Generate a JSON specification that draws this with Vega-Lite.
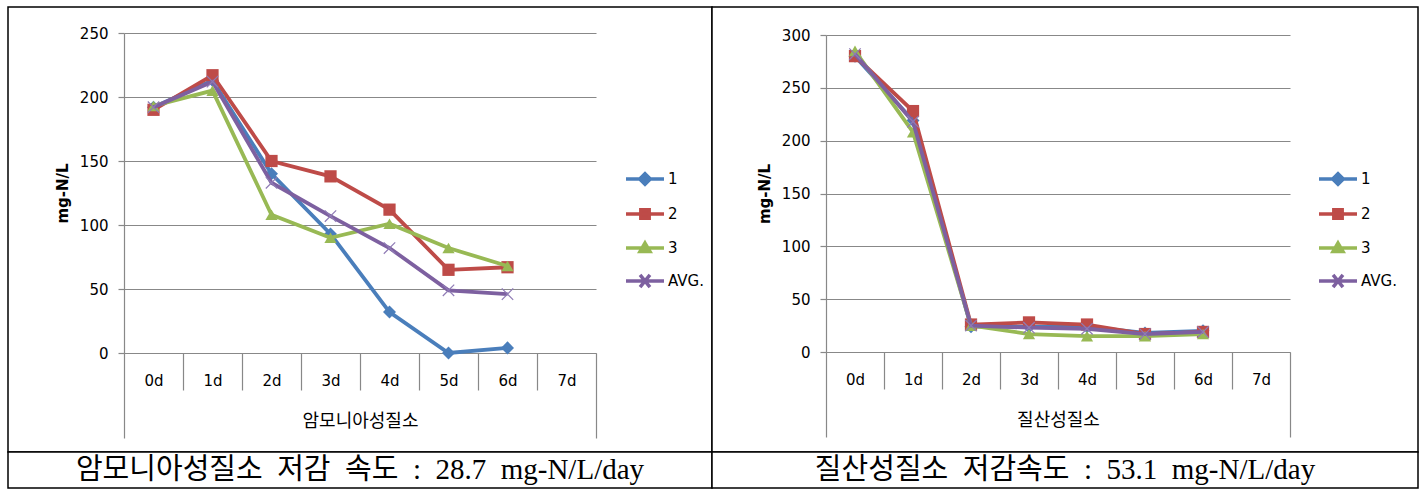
{
  "$schema": "https://vega.github.io/schema/vega-lite/v6.json",
  "background": "white",
  "padding": {"left": 7, "top": 6, "right": 0, "bottom": 0},
  "bounds": "flush",
  "spacing": 445,
  "datasets": {
    "nh4": [
      {"d": "0d", "s": "1", "v": 192}, {"d": "1d", "s": "1", "v": 213}, {"d": "2d", "s": "1", "v": 140}, {"d": "3d", "s": "1", "v": 93}, {"d": "4d", "s": "1", "v": 32}, {"d": "5d", "s": "1", "v": 0}, {"d": "6d", "s": "1", "v": 4},
      {"d": "0d", "s": "2", "v": 190}, {"d": "1d", "s": "2", "v": 217}, {"d": "2d", "s": "2", "v": 150}, {"d": "3d", "s": "2", "v": 138}, {"d": "4d", "s": "2", "v": 112}, {"d": "5d", "s": "2", "v": 65}, {"d": "6d", "s": "2", "v": 67},
      {"d": "0d", "s": "3", "v": 193}, {"d": "1d", "s": "3", "v": 205}, {"d": "2d", "s": "3", "v": 108}, {"d": "3d", "s": "3", "v": 90}, {"d": "4d", "s": "3", "v": 101}, {"d": "5d", "s": "3", "v": 82}, {"d": "6d", "s": "3", "v": 68},
      {"d": "0d", "s": "AVG.", "v": 192}, {"d": "1d", "s": "AVG.", "v": 212}, {"d": "2d", "s": "AVG.", "v": 133}, {"d": "3d", "s": "AVG.", "v": 107}, {"d": "4d", "s": "AVG.", "v": 82}, {"d": "5d", "s": "AVG.", "v": 49}, {"d": "6d", "s": "AVG.", "v": 46}
    ],
    "no3": [
      {"d": "0d", "s": "1", "v": 280}, {"d": "1d", "s": "1", "v": 219}, {"d": "2d", "s": "1", "v": 24}, {"d": "3d", "s": "1", "v": 24}, {"d": "4d", "s": "1", "v": 24}, {"d": "5d", "s": "1", "v": 18}, {"d": "6d", "s": "1", "v": 20},
      {"d": "0d", "s": "2", "v": 280}, {"d": "1d", "s": "2", "v": 228}, {"d": "2d", "s": "2", "v": 26}, {"d": "3d", "s": "2", "v": 28}, {"d": "4d", "s": "2", "v": 26}, {"d": "5d", "s": "2", "v": 17}, {"d": "6d", "s": "2", "v": 19},
      {"d": "0d", "s": "3", "v": 285}, {"d": "1d", "s": "3", "v": 208}, {"d": "2d", "s": "3", "v": 25}, {"d": "3d", "s": "3", "v": 17}, {"d": "4d", "s": "3", "v": 15}, {"d": "5d", "s": "3", "v": 15}, {"d": "6d", "s": "3", "v": 17},
      {"d": "0d", "s": "AVG.", "v": 282}, {"d": "1d", "s": "AVG.", "v": 218}, {"d": "2d", "s": "AVG.", "v": 25}, {"d": "3d", "s": "AVG.", "v": 23}, {"d": "4d", "s": "AVG.", "v": 22}, {"d": "5d", "s": "AVG.", "v": 17}, {"d": "6d", "s": "AVG.", "v": 19}
    ],
    "capL": [{"t": "암모니아성질소\u00a0\u00a0저감\u00a0\u00a0속도\u00a0\u00a0:\u00a0\u00a028.7\u00a0\u00a0mg-N/L/day"}],
    "capR": [{"t": "질산성질소\u00a0\u00a0저감속도\u00a0\u00a0:\u00a0\u00a053.1\u00a0\u00a0mg-N/L/day"}]
  },
  "config": {
    "font": "DejaVu Sans",
    "view": {"stroke": null},
    "axis": {
      "labelFont": "DejaVu Sans", "labelFontSize": 15, "labelColor": "#000",
      "domainColor": "#888888", "tickColor": "#888888", "gridColor": "#888888",
      "domainWidth": 1.2, "gridWidth": 1.2, "tickWidth": 1.2, "titleColor": "#000"
    },
    "legend": {"symbolOpacity": 1}
  },
  "vconcat": [
    {
      "hconcat": [
        {
          "width": 704, "height": 445,
          "view": {"stroke": "#000", "strokeWidth": 1.5, "fill": "white"},
          "data": {"name": "nh4"},
          "encoding": {
            "x": {"field": "d", "type": "ordinal", "scale": {"type": "band", "domain": ["0d","1d","2d","3d","4d","5d","6d","7d"], "paddingInner": 0, "paddingOuter": 0, "range": [116, 588]},
              "axis": {"offset": -99, "title": "암모니아성질소", "titleFont": "Noto Sans CJK KR", "titleFontSize": 18, "titleFontWeight": "normal", "titleY": 68, "titleBaseline": "middle",
                "labelAngle": 0, "tickBand": "extent",
                "labelPadding": {"condition": {"test": "datum.index === 1", "value": -65}, "value": -17},
                "tickSize": {"condition": {"test": "datum.index === 1 || datum.index < 0", "value": 85}, "value": 37}}},
            "y": {"field": "v", "type": "quantitative", "scale": {"domain": [0, 250], "range": [346, 26]},
              "axis": {"offset": -116, "title": "mg-N/L", "titleFont": "DejaVu Sans", "titleFontSize": 15, "titleFontWeight": "bold", "values": [0,50,100,150,200,250], "grid": true, "tickSize": 6, "labelPadding": 10, "titlePadding": 9}}
          },
          "layer": [
            {"transform": [{"filter": "datum.s === '1'"}], "mark": {"type": "line", "strokeWidth": 3.8, "color": "#4A7EBB", "point": {"shape": "diamond", "filled": true, "size": 170, "color": "#4A7EBB", "opacity": 1}}},
            {"transform": [{"filter": "datum.s === '2'"}], "mark": {"type": "line", "strokeWidth": 3.8, "color": "#BE4B48", "point": {"shape": "square", "filled": true, "size": 150, "color": "#BE4B48", "opacity": 1}}},
            {"transform": [{"filter": "datum.s === '3'"}], "mark": {"type": "line", "strokeWidth": 3.8, "color": "#98B954", "point": {"shape": "triangle-up", "filled": true, "size": 150, "color": "#98B954", "opacity": 1}}},
            {"transform": [{"filter": "datum.s === 'AVG.'"}], "mark": {"type": "line", "strokeWidth": 3.8, "color": "#7D60A0", "point": {"shape": "M-1,-1L1,1M-1,1L1,-1", "filled": false, "size": 130, "strokeWidth": 1.2, "color": "#8F7BB5", "opacity": 1}}},
            {"transform": [{"filter": "false"}], "mark": {"type": "point", "filled": true, "opacity": 1, "strokeWidth": 3},
              "encoding": {
                "shape": {"field": "s", "type": "nominal", "scale": {"domain": ["1","2","3","AVG."], "range": ["M-1,0L1,0M0,-0.28L0.28,0L0,0.28L-0.28,0Z", "M-1,0L1,0M-0.22,-0.22L0.22,-0.22L0.22,0.22L-0.22,0.22Z", "M-1,0L1,0M0,-0.26L0.26,0.18L-0.26,0.18Z", "M-1,0L1,0M-0.26,-0.32L0.26,0.32M-0.26,0.32L0.26,-0.32"]},
                  "legend": {"title": null, "orient": "none", "legendX": 616, "legendY": 151, "symbolSize": 1444, "symbolStrokeWidth": 3.5, "labelFont": "DejaVu Sans", "labelFontSize": 15, "labelColor": "#000", "rowPadding": 1, "labelOffset": 2, "padding": 0}},
                "fill": {"field": "s", "type": "nominal", "scale": {"domain": ["1","2","3","AVG."], "range": ["#4A7EBB","#BE4B48","#98B954","#7D60A0"]},
                  "legend": {"title": null, "orient": "none", "legendX": 616, "legendY": 151, "symbolSize": 1444, "symbolStrokeWidth": 3.5, "labelFont": "DejaVu Sans", "labelFontSize": 15, "labelColor": "#000", "rowPadding": 1, "labelOffset": 2, "padding": 0}},
                "stroke": {"field": "s", "type": "nominal", "scale": {"domain": ["1","2","3","AVG."], "range": ["#4A7EBB","#BE4B48","#98B954","#7D60A0"]},
                  "legend": {"title": null, "orient": "none", "legendX": 616, "legendY": 151, "symbolSize": 1444, "symbolStrokeWidth": 3.5, "labelFont": "DejaVu Sans", "labelFontSize": 15, "labelColor": "#000", "rowPadding": 1, "labelOffset": 2, "padding": 0}}
              }}
          ]
        },
        {
          "width": 706, "height": 445,
          "view": {"stroke": "#000", "strokeWidth": 1.5, "fill": "white"},
          "data": {"name": "no3"},
          "encoding": {
            "x": {"field": "d", "type": "ordinal", "scale": {"type": "band", "domain": ["0d","1d","2d","3d","4d","5d","6d","7d"], "paddingInner": 0, "paddingOuter": 0, "range": [114, 578]},
              "axis": {"offset": -100, "title": "질산성질소", "titleFont": "Noto Sans CJK KR", "titleFontSize": 18, "titleFontWeight": "normal", "titleY": 68, "titleBaseline": "middle",
                "labelAngle": 0, "tickBand": "extent",
                "labelPadding": {"condition": {"test": "datum.index === 1", "value": -65}, "value": -17},
                "tickSize": {"condition": {"test": "datum.index === 1 || datum.index < 0", "value": 85}, "value": 37}}},
            "y": {"field": "v", "type": "quantitative", "scale": {"domain": [0, 300], "range": [345, 28]},
              "axis": {"offset": -114, "title": "mg-N/L", "titleFont": "DejaVu Sans", "titleFontSize": 15, "titleFontWeight": "bold", "values": [0,50,100,150,200,250,300], "grid": true, "tickSize": 6, "labelPadding": 10, "titlePadding": 9}}
          },
          "layer": [
            {"transform": [{"filter": "datum.s === '1'"}], "mark": {"type": "line", "strokeWidth": 3.8, "color": "#4A7EBB", "point": {"shape": "diamond", "filled": true, "size": 170, "color": "#4A7EBB", "opacity": 1}}},
            {"transform": [{"filter": "datum.s === '2'"}], "mark": {"type": "line", "strokeWidth": 3.8, "color": "#BE4B48", "point": {"shape": "square", "filled": true, "size": 150, "color": "#BE4B48", "opacity": 1}}},
            {"transform": [{"filter": "datum.s === '3'"}], "mark": {"type": "line", "strokeWidth": 3.8, "color": "#98B954", "point": {"shape": "triangle-up", "filled": true, "size": 150, "color": "#98B954", "opacity": 1}}},
            {"transform": [{"filter": "datum.s === 'AVG.'"}], "mark": {"type": "line", "strokeWidth": 3.8, "color": "#7D60A0", "point": {"shape": "M-1,-1L1,1M-1,1L1,-1", "filled": false, "size": 130, "strokeWidth": 1.2, "color": "#8F7BB5", "opacity": 1}}},
            {"transform": [{"filter": "false"}], "mark": {"type": "point", "filled": true, "opacity": 1, "strokeWidth": 3},
              "encoding": {
                "shape": {"field": "s", "type": "nominal", "scale": {"domain": ["1","2","3","AVG."], "range": ["M-1,0L1,0M0,-0.28L0.28,0L0,0.28L-0.28,0Z", "M-1,0L1,0M-0.22,-0.22L0.22,-0.22L0.22,0.22L-0.22,0.22Z", "M-1,0L1,0M0,-0.26L0.26,0.18L-0.26,0.18Z", "M-1,0L1,0M-0.26,-0.32L0.26,0.32M-0.26,0.32L0.26,-0.32"]},
                  "legend": {"title": null, "orient": "none", "legendX": 605, "legendY": 151, "symbolSize": 1444, "symbolStrokeWidth": 3.5, "labelFont": "DejaVu Sans", "labelFontSize": 15, "labelColor": "#000", "rowPadding": 1, "labelOffset": 2, "padding": 0}},
                "fill": {"field": "s", "type": "nominal", "scale": {"domain": ["1","2","3","AVG."], "range": ["#4A7EBB","#BE4B48","#98B954","#7D60A0"]},
                  "legend": {"title": null, "orient": "none", "legendX": 605, "legendY": 151, "symbolSize": 1444, "symbolStrokeWidth": 3.5, "labelFont": "DejaVu Sans", "labelFontSize": 15, "labelColor": "#000", "rowPadding": 1, "labelOffset": 2, "padding": 0}},
                "stroke": {"field": "s", "type": "nominal", "scale": {"domain": ["1","2","3","AVG."], "range": ["#4A7EBB","#BE4B48","#98B954","#7D60A0"]},
                  "legend": {"title": null, "orient": "none", "legendX": 605, "legendY": 151, "symbolSize": 1444, "symbolStrokeWidth": 3.5, "labelFont": "DejaVu Sans", "labelFontSize": 15, "labelColor": "#000", "rowPadding": 1, "labelOffset": 2, "padding": 0}}
              }}
          ]
        }
      ],
      "spacing": 0,
      "bounds": "flush",
      "resolve": {
        "scale": {"fill": "independent", "stroke": "independent", "shape": "independent"},
        "legend": {"fill": "independent", "stroke": "independent", "shape": "independent"}
      }
    },
    {
      "hconcat": [
        {"width": 704, "height": 36, "data": {"name": "capL"}, "view": {"stroke": "#000", "strokeWidth": 1.5, "fill": "white"},
          "mark": {"type": "text", "font": "'Liberation Serif', 'Noto Sans CJK KR'", "fontSize": 29, "color": "#000"}, "encoding": {"text": {"field": "t"}}},
        {"width": 706, "height": 36, "data": {"name": "capR"}, "view": {"stroke": "#000", "strokeWidth": 1.5, "fill": "white"},
          "mark": {"type": "text", "font": "'Liberation Serif', 'Noto Sans CJK KR'", "fontSize": 29, "color": "#000"}, "encoding": {"text": {"field": "t"}}}
      ],
      "spacing": 0,
      "bounds": "flush"
    }
  ]
}
